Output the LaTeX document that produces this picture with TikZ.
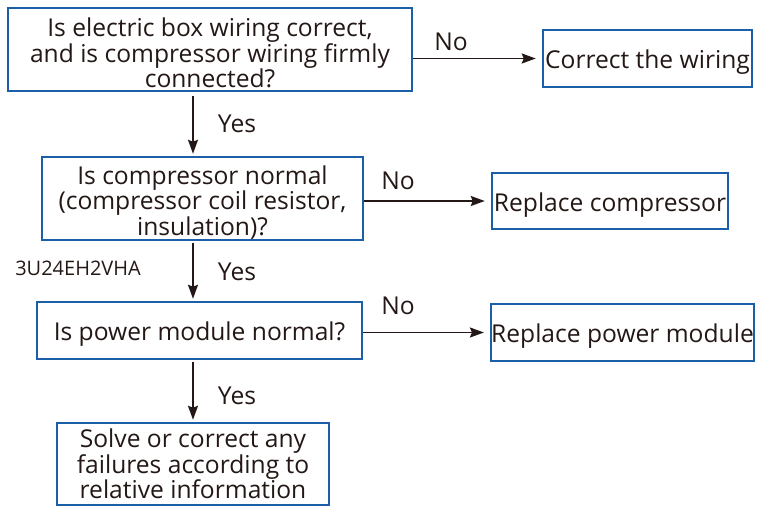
\documentclass[tikz,border=0pt]{standalone}
\usepackage{fontspec}
\setmainfont{Open Sans}
\usetikzlibrary{positioning,arrows.meta}
\definecolor{boxblue}{RGB}{26,95,168}
\definecolor{inkdark}{RGB}{35,24,21}
\newcommand\topstrut{\rule{0pt}{26pt}}

\begin{document}
\begin{tikzpicture}[
  x=1pt,y=1pt,
  >={Stealth[length=14pt,width=10pt,inset=2pt]},
  box/.style={draw=boxblue,line width=2.5pt,fill=white,inner sep=0pt,align=center,text=inkdark,font=\fontsize{24.6}{25.5}\selectfont},
  flow/.style={->,line width=1.8pt,draw=inkdark},
  lbl/.style={text=inkdark,font=\fontsize{24.6}{25.5}\selectfont}
]
  \useasboundingbox (0,0) rectangle (758,-506);
  \coordinate (spine) at (193,0);

  \node[box,minimum width=404,minimum height=83] (q1) at (210,-49.5) {\topstrut Is electric box wiring correct,\\ and is compressor wiring firmly\\ connected?};
  \node[box,minimum width=321,minimum height=83] (q2) at (202.5,-198.5) {\topstrut Is compressor normal\\ (compressor coil resistor,\\ insulation)?};
  \node[box,minimum width=325,minimum height=57] (q3) at (199.5,-330.5) {\topstrut Is power module normal?};
  \node[box,minimum width=272,minimum height=82] (q4) at (193,-464) {Solve or correct any\\ failures according to\\ relative information};

  \node[box,minimum width=209,minimum height=57] (a1) at (647.5,-58.5) {\topstrut Correct the wiring};
  \node[box,minimum width=236,minimum height=56] (a2) at (610,-201) {\topstrut Replace compressor};
  \node[box,minimum width=261,minimum height=57] (a3) at (622.5,-332.5) {\topstrut Replace power module};

  \draw[flow,shorten <=4pt,shorten >=2pt] (q1.south -| spine) -- (q2.north -| spine);
  \draw[flow,shorten <=2pt,shorten >=2pt] (q2.south -| spine) -- (q3.north -| spine);
  \draw[flow,shorten <=2pt,shorten >=2pt] (q3.south -| spine) -- (q4.north -| spine);

  \draw[flow,shorten >=6pt] (q1.east |- a1.west) -- (a1.west);
  \draw[flow,shorten >=6pt] (q2.east |- a2.west) -- (a2.west);
  \draw[flow,shorten >=6pt] (q3.east |- a3.west) -- (a3.west);

  \node[lbl] (yes1) at (237,-124) {Yes};
  \node[lbl] (yes2) at (237,-272) {Yes};
  \node[lbl] (yes3) at (237,-396) {Yes};
  \node[lbl] (no1) at (451,-42) {No};
  \node[lbl] (no2) at (398,-181) {No};
  \node[lbl] (no3) at (398,-306) {No};

  \node[text=inkdark,font=\fontsize{20}{21}\selectfont] (model) at (78,-268) {3U24EH2VHA};
\end{tikzpicture}
\end{document}
